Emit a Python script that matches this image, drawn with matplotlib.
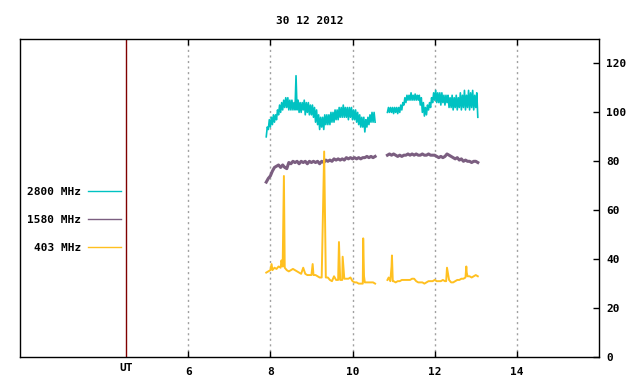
import numpy as np
import matplotlib
matplotlib.use("Agg")
import matplotlib.pyplot as plt

# Solar radio flux, 30 12 2012 (hours UT)
# 2800 MHz, sampled every 0.025 h
f_2800_a = [90, 94, 93, 97, 94, 98, 95, 99, 96, 99,
            97, 101, 99, 103, 100, 104, 101, 105, 102, 106,
            102, 106, 101, 105, 101, 105, 101, 104, 101, 115,
            101, 105, 100, 104, 100, 104, 101, 105, 99, 104,
            100, 104, 99, 103, 99, 103, 98, 102, 96, 101,
            95, 99, 93, 98, 94, 98, 93, 99, 95, 99,
            95, 99, 95, 100, 96, 100, 96, 101, 97, 101,
            97, 102, 98, 102, 98, 103, 98, 102, 98, 102,
            97, 102, 98, 102, 97, 101, 97, 101, 96, 100,
            95, 99, 94, 98, 94, 98, 92, 97, 94, 98,
            95, 99, 96, 100, 96, 100, 96]
t_2800_a = np.linspace(7.90, 10.55, len(f_2800_a))
f_2800_b = [100, 102, 100, 102, 100, 102, 99.5, 102, 100, 102,
            99.5, 102, 100, 103, 101, 104, 103, 106, 104, 107,
            105, 107, 105, 108, 105, 107, 105, 107.5, 105, 107,
            105, 107, 103, 106, 100, 104, 98.5, 102, 99, 103,
            101, 104, 102, 106, 104, 108, 105, 109, 104, 108,
            104, 108, 103, 108, 104, 107, 103, 107, 104, 107,
            102, 106, 102, 107, 101, 106, 102, 107, 101, 106,
            102, 108, 101, 107, 102, 109, 101, 107, 102, 109,
            101, 108, 102, 109, 101, 107, 102, 108, 98]
t_2800_b = np.linspace(10.85, 13.05, len(f_2800_b))

# 1580 MHz, sampled every 0.05 h
f_1580_a = [71.5, 73, 74, 76, 77.5, 78, 78.5, 77.5, 78.5, 77.5, 77, 79.5, 79,
            80, 79.5, 80, 79, 80, 79.5, 80, 79, 80, 79.5, 80, 79.5, 80,
            79, 80, 79.5, 80.5, 80, 80.5, 80, 81, 80.5, 81, 80.5, 81, 80.5,
            81.5, 81, 81.5, 81, 81.5, 81, 81.5, 81, 81.5, 81.5, 82,
            81.5, 82, 81.5, 82]
t_1580_a = np.linspace(7.90, 10.55, len(f_1580_a))
f_1580_b = [82.5, 83, 82.5, 83, 82.5, 82, 82.5, 82, 82.5, 82.5, 83,
            82.5, 83, 82.5, 83, 82.5, 82.5, 83, 82.5, 82.5, 83, 82.5,
            82.5, 82.5, 82, 81.5, 82, 81.5, 82, 83, 82.5, 82, 81.5,
            81, 81.5, 80.5, 81, 80, 80.5, 80, 80, 79.5, 80, 80,
            79.5]
t_1580_b = np.linspace(10.85, 13.05, len(f_1580_b))

# 403 MHz, with bursts
t_403_a = [7.90, 7.95, 8.00, 8.03, 8.05, 8.10, 8.15, 8.20, 8.25, 8.27, 8.30, 8.33, 8.35,
           8.40, 8.45, 8.50, 8.55, 8.60, 8.65, 8.70, 8.75, 8.80, 8.85, 8.90, 8.95, 9.00,
           9.03, 9.05, 9.10, 9.15, 9.20, 9.25, 9.31, 9.35, 9.40, 9.45, 9.50, 9.55, 9.60,
           9.65, 9.67, 9.70, 9.75, 9.76, 9.80, 9.85, 9.90, 9.95, 10.00, 10.05, 10.10,
           10.15, 10.20, 10.25, 10.26, 10.28, 10.30, 10.35, 10.40, 10.45, 10.50, 10.55]
f_403_a = [34.5, 35, 35.5, 38, 35.5, 36.5, 36, 37, 36.5, 39.5, 37, 74, 36.5,
           35.5, 35, 35.5, 36, 35.5, 35, 34.5, 34, 36.5, 34, 33.5, 33.5, 33.5,
           38, 33.5, 33.5, 33, 32.5, 32.5, 84, 32.5, 32.5, 31.5, 31, 33, 31.5,
           31.5, 47, 31.5, 31.5, 41, 32, 32, 32, 32.5, 31, 30.5, 30.5,
           30, 30, 30, 48.5, 33, 30.5, 30.5, 30.5, 30.5, 30.5, 30]
t_403_b = [10.85, 10.88, 10.92, 10.95, 10.96, 10.98, 11.00, 11.05, 11.10, 11.15, 11.20,
           11.25, 11.30, 11.35, 11.40, 11.45, 11.50, 11.55, 11.60, 11.65, 11.70, 11.75,
           11.80, 11.85, 11.90, 11.95, 12.00, 12.05, 12.10, 12.15, 12.20, 12.25, 12.28,
           12.30, 12.35, 12.40, 12.45, 12.50, 12.55, 12.60, 12.65, 12.70, 12.75, 12.77,
           12.78, 12.80, 12.85, 12.90, 12.95, 13.00, 13.05]
f_403_b = [31.5, 32.5, 31, 37, 41.5, 31, 31, 30.5, 31, 31, 31.5,
           31.5, 31.5, 31.5, 31.5, 32, 32, 31, 30.5, 30.5, 30.5, 30,
           30.5, 31, 31, 31, 31.5, 31, 31, 31, 31.5, 31, 31,
           36.5, 31.5, 30.5, 30.5, 31, 31.5, 31.5, 32, 32, 32.5, 37,
           34.5, 33, 33, 32.5, 33, 33.5, 33]

series = [
    ("2800 MHz", "#00c2c2", 1.2, [(t_2800_a, f_2800_a), (t_2800_b, f_2800_b)]),
    ("1580 MHz", "#7b5e80", 2.2, [(t_1580_a, f_1580_a), (t_1580_b, f_1580_b)]),
    ("403 MHz", "#ffc020", 1.4, [(t_403_a, f_403_a), (t_403_b, f_403_b)]),
]

x_ticks = [6, 8, 10, 12, 14]
y_ticks = [0, 20, 40, 60, 80, 100, 120]
ut_line = 4.48
title = "30 12 2012"

mono = dict(family="DejaVu Sans Mono", weight="bold", size=8)

fig = plt.figure(figsize=(6.4, 3.84), dpi=100)
ax = fig.add_axes([20 / 640, 27 / 384, 579 / 640, 318 / 384])

for x in x_ticks:
    ax.axvline(x, color="#a0a0a0", lw=1, ls=(0, (1.5, 2.5)), zorder=1)
ax.axvline(ut_line, color="#800000", lw=1, zorder=2)

for label, color, lw, parts in series:
    for i, (t, f) in enumerate(parts):
        ax.plot(t, f, color=color, lw=lw, label=label if i == 0 else None, zorder=3)

ax.set_xlim(1.906, 16.0)
ax.set_ylim(0, 130)
ax.set_xticks(x_ticks)
ax.set_xticklabels([str(x) for x in x_ticks], fontdict=mono)
ax.yaxis.tick_right()
ax.set_yticks(y_ticks)
ax.set_yticklabels([str(y) for y in y_ticks], fontdict=mono)
ax.tick_params(axis="x", direction="in", length=4, width=1, top=True, pad=7)
ax.tick_params(axis="y", direction="in", length=4, width=1, left=False, right=True, pad=5)
for sp in ax.spines.values():
    sp.set_linewidth(1)
    sp.set_color("black")

ax.text(ut_line, -0.02, "UT", transform=ax.get_xaxis_transform(),
        ha="center", va="top", **mono)
ax.set_title(title, fontdict=mono, pad=11)

leg = ax.legend(loc="upper right", bbox_to_anchor=(0.1745, 0.534), frameon=False,
                markerfirst=False, handlelength=3.0, handletextpad=0.6,
                labelspacing=1.6, borderpad=0, borderaxespad=0,
                prop=dict(family="DejaVu Sans Mono", weight="bold", size=8))
for line in leg.get_lines():
    line.set_linewidth(1)

fig.savefig("out.png", dpi=100)
